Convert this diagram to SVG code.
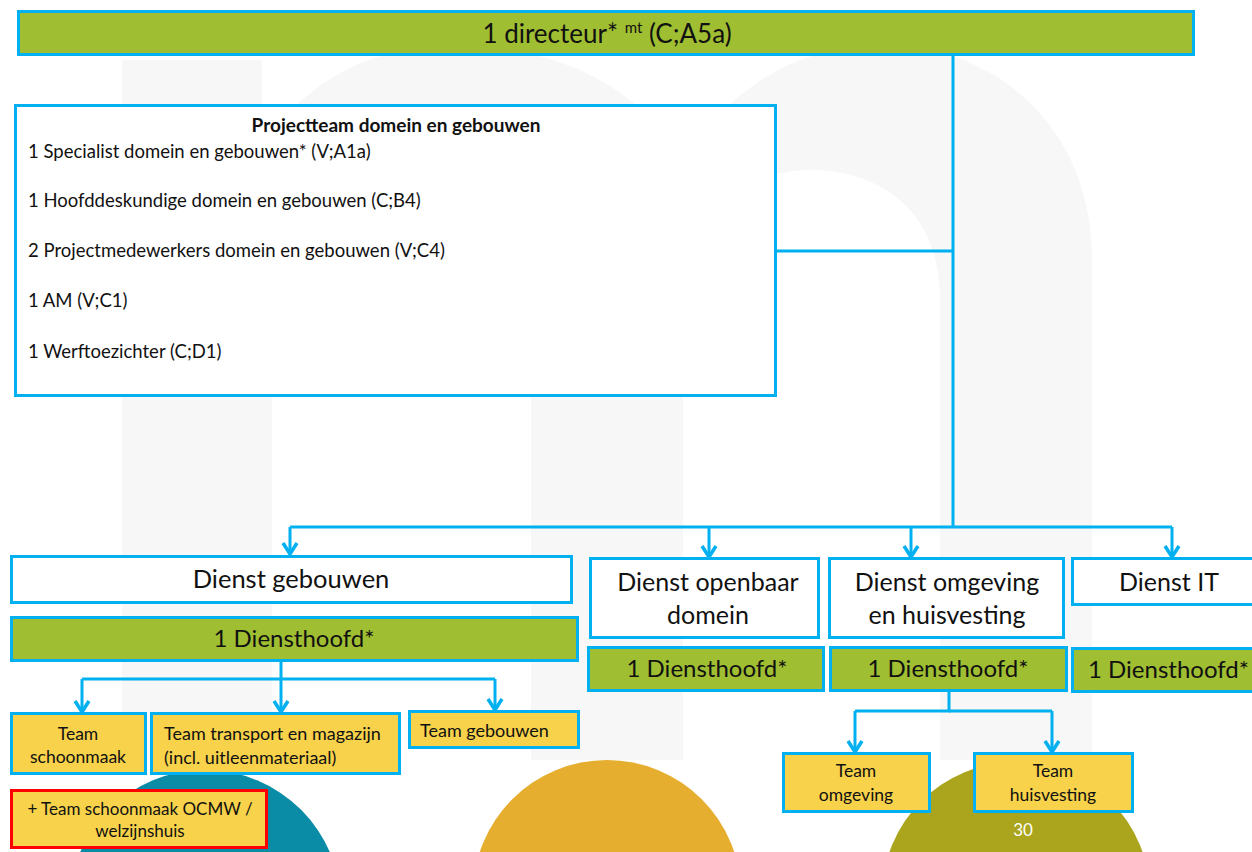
<svg xmlns="http://www.w3.org/2000/svg" width="1252" height="852" viewBox="0 0 1252 852">
<style>
text{font-family:Lato,"Liberation Sans",sans-serif;fill:#111}
.box{stroke:#00b0f0;stroke-width:3}
.w{fill:#fff}
.g{fill:#a0be32}
.y{fill:#f7d24a}
.red{fill:#f7d24a;stroke:#ff0000;stroke-width:3}
.c{text-anchor:middle}
.con{fill:none;stroke:#00b0f0;stroke-width:3}
.pt{font-size:18.5px}
.d{font-size:25px}
.dh{font-size:24px}
.t{font-size:17.5px}
</style>
<defs>
<marker id="arr" markerWidth="16" markerHeight="20" refX="14" refY="10" orient="auto" markerUnits="userSpaceOnUse" viewBox="0 0 16 20">
<path d="M3,3 L14,10 L3,17" fill="none" stroke="#00b0f0" stroke-width="3.5"/>
</marker>
</defs>
<rect width="1252" height="852" fill="#fff"/>
<g id="background">
<path d="M122,760 V60 H262 V150 C300,80 380,45 450,45 C560,45 650,90 683,170 C720,90 800,45 880,45 C1000,45 1092,130 1092,260 V760 H940 V300 C940,210 880,170 810,170 C740,170 683,220 683,280 V760 H531 V300 C531,220 480,170 400,170 C330,170 272,230 272,300 V760 Z" fill="#f7f7f7"/>
<circle cx="205" cy="906" r="136" fill="#0a8ca6"/>
<circle cx="607" cy="894" r="134" fill="#e6ae2f"/>
<circle cx="1016" cy="896" r="134" fill="#aaa51c"/>
<text x="1023" y="836" class="c" style="fill:#fff;font-size:17px">30</text>
</g>
<g id="connectors" class="con">
<path d="M953,56 V527"/>
<path d="M777,251 H953"/>
<path d="M290,527 H1172"/>
<path d="M290,527 V554" marker-end="url(#arr)"/>
<path d="M709,527 V557" marker-end="url(#arr)"/>
<path d="M911,527 V557" marker-end="url(#arr)"/>
<path d="M1172,527 V557" marker-end="url(#arr)"/>
<path d="M281,661 V712" marker-end="url(#arr)"/>
<path d="M82,679 H495"/>
<path d="M82,679 V712" marker-end="url(#arr)"/>
<path d="M495,679 V710" marker-end="url(#arr)"/>
<path d="M949,690 V711 H855"/>
<path d="M949,711 H1052"/>
<path d="M855,711 V752" marker-end="url(#arr)"/>
<path d="M1052,711 V752" marker-end="url(#arr)"/>
</g>
<g id="directeur">
<rect x="18.5" y="11.5" width="1175" height="43" class="box g"/>
<text x="607" y="43" class="c" style="font-size:26px">1 directeur* <tspan style="font-size:15px" dy="-10">mt</tspan><tspan dy="10"> (C;A5a)</tspan></text>
</g>
<g id="projectteam">
<rect x="15.5" y="105.5" width="760" height="290" class="box w"/>
<text x="396" y="132" class="c" style="font-size:19px;font-weight:bold">Projectteam domein en gebouwen</text>
<text x="28" y="158" class="pt">1 Specialist domein en gebouwen* (V;A1a)</text>
<text x="28" y="207" class="pt">1 Hoofddeskundige domein en gebouwen (C;B4)</text>
<text x="28" y="257" class="pt">2 Projectmedewerkers domein en gebouwen (V;C4)</text>
<text x="28" y="307" class="pt">1 AM (V;C1)</text>
<text x="28" y="358" class="pt">1 Werftoezichter (C;D1)</text>
</g>
<g id="dienst-gebouwen">
<rect x="11.5" y="556.5" width="560" height="46" class="box w"/>
<text x="291" y="588" class="c" style="font-size:25.5px">Dienst gebouwen</text>
<rect x="11.5" y="617.5" width="566" height="43" class="box g"/>
<text x="294" y="647" class="c dh">1 Diensthoofd*</text>
</g>
<g id="dienst-openbaar-domein">
<rect x="590.5" y="558.5" width="228" height="79" class="box w"/>
<text x="708" y="591" class="c d">Dienst openbaar</text>
<text x="708" y="624" class="c d">domein</text>
<rect x="588.5" y="647.5" width="235" height="43" class="box g"/>
<text x="707" y="677" class="c dh">1 Diensthoofd*</text>
</g>
<g id="dienst-omgeving">
<rect x="829.5" y="558.5" width="234" height="79" class="box w"/>
<text x="947" y="591" class="c d">Dienst omgeving</text>
<text x="947" y="624" class="c d">en huisvesting</text>
<rect x="830.5" y="647.5" width="236" height="43" class="box g"/>
<text x="948" y="677" class="c dh">1 Diensthoofd*</text>
</g>
<g id="dienst-it">
<rect x="1072.5" y="558.5" width="185" height="46" class="box w"/>
<text x="1169" y="591" class="c d">Dienst IT</text>
<rect x="1072.5" y="648.5" width="185" height="43" class="box g"/>
<text x="1088" y="678" class="dh">1 Diensthoofd*</text>
</g>
<g id="team-schoonmaak">
<rect x="11.5" y="713.5" width="134" height="60" class="box y"/>
<text x="78" y="740" class="c t">Team</text>
<text x="78" y="763" class="c t">schoonmaak</text>
</g>
<g id="team-transport">
<rect x="151.5" y="713.5" width="248" height="60" class="box y"/>
<text x="164" y="740" style="font-size:18px">Team transport en magazijn</text>
<text x="164" y="764" style="font-size:18px">(incl. uitleenmateriaal)</text>
</g>
<g id="team-gebouwen">
<rect x="409.5" y="711.5" width="169" height="36" class="box y"/>
<text x="420" y="737" style="font-size:18px">Team gebouwen</text>
</g>
<g id="team-ocmw">
<rect x="11.5" y="790.5" width="255" height="57" class="red"/>
<text x="140" y="815" class="c" style="font-size:17px">+ Team schoonmaak OCMW /</text>
<text x="140" y="837" class="c" style="font-size:17px">welzijnshuis</text>
</g>
<g id="team-omgeving">
<rect x="783.5" y="753.5" width="146" height="58" class="box y"/>
<text x="856" y="777" class="c t">Team</text>
<text x="856" y="801" class="c t">omgeving</text>
</g>
<g id="team-huisvesting">
<rect x="974.5" y="753.5" width="158" height="58" class="box y"/>
<text x="1053" y="777" class="c t">Team</text>
<text x="1053" y="801" class="c t">huisvesting</text>
</g>
</svg>
